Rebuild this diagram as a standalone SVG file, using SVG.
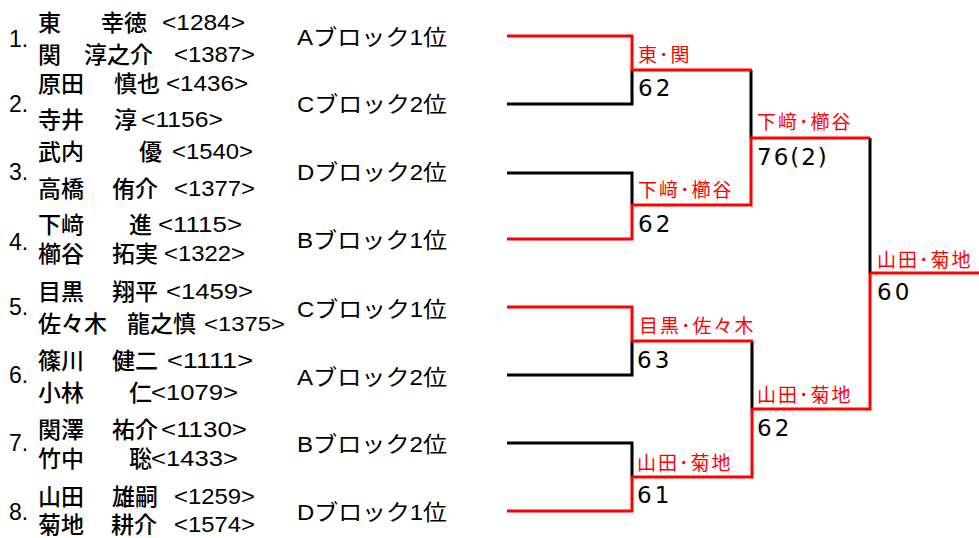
<svg xmlns="http://www.w3.org/2000/svg" width="979" height="538" viewBox="0 0 979 538">
<style>
.bg{fill:#fff}
.num{font-family:"Liberation Sans",Arial,sans-serif;font-size:23px;fill:#000}
.nm{font-family:"Noto Sans CJK JP","Liberation Sans",sans-serif;font-size:23px;font-weight:500;fill:#000}
.rt{font-family:"Liberation Sans",Arial,sans-serif;font-size:22px;fill:#000}
.blk{font-family:"Liberation Sans","Noto Sans CJK JP",sans-serif;font-size:22px;fill:#000}
.win{font-family:"Noto Sans CJK JP",sans-serif;font-size:19px;fill:#ff0000;letter-spacing:2px}
.sc{font-family:"DejaVu Sans","Liberation Sans",sans-serif;font-size:23px;fill:#000}
.lb{fill:none;stroke:#000;stroke-width:3;stroke-linejoin:miter}
.lr{fill:none;stroke:#ff0000;stroke-width:3;stroke-linejoin:miter}
</style>
<rect class="bg" x="0" y="0" width="979" height="538"/>

<g id="entry1">
<text class="num" x="9" y="47">1.</text>
<text class="nm" x="38" y="31">東</text><text class="nm" x="101" y="31">幸徳</text><text class="rt" x="162" y="30" textLength="83" lengthAdjust="spacingAndGlyphs">&lt;1284&gt;</text>
<text class="nm" x="38" y="63">関</text><text class="nm" x="84" y="63">淳之介</text><text class="rt" x="174" y="62" textLength="81" lengthAdjust="spacingAndGlyphs">&lt;1387&gt;</text>
<text class="blk" x="297" y="45" textLength="150" lengthAdjust="spacingAndGlyphs">Aブロック1位</text>
</g>
<g id="entry2">
<text class="num" x="9" y="112">2.</text>
<text class="nm" x="38" y="92">原田</text><text class="nm" x="114" y="92">慎也</text><text class="rt" x="166" y="91" textLength="82" lengthAdjust="spacingAndGlyphs">&lt;1436&gt;</text>
<text class="nm" x="38" y="128">寺井</text><text class="nm" x="114" y="128">淳</text><text class="rt" x="141" y="127" textLength="82" lengthAdjust="spacingAndGlyphs">&lt;1156&gt;</text>
<text class="blk" x="297" y="112" textLength="150" lengthAdjust="spacingAndGlyphs">Cブロック2位</text>
</g>
<g id="entry3">
<text class="num" x="9" y="180">3.</text>
<text class="nm" x="38" y="160">武内</text><text class="nm" x="139" y="160">優</text><text class="rt" x="172" y="159" textLength="81" lengthAdjust="spacingAndGlyphs">&lt;1540&gt;</text>
<text class="nm" x="38" y="197">高橋</text><text class="nm" x="112" y="197">侑介</text><text class="rt" x="174" y="196" textLength="81" lengthAdjust="spacingAndGlyphs">&lt;1377&gt;</text>
<text class="blk" x="297" y="180" textLength="150" lengthAdjust="spacingAndGlyphs">Dブロック2位</text>
</g>
<g id="entry4">
<text class="num" x="9" y="250">4.</text>
<text class="nm" x="38" y="233">下﨑</text><text class="nm" x="129" y="233">進</text><text class="rt" x="158" y="232" textLength="84" lengthAdjust="spacingAndGlyphs">&lt;1115&gt;</text>
<text class="nm" x="38" y="262">櫛谷</text><text class="nm" x="112" y="262">拓実</text><text class="rt" x="164" y="261" textLength="81" lengthAdjust="spacingAndGlyphs">&lt;1322&gt;</text>
<text class="blk" x="297" y="248" textLength="150" lengthAdjust="spacingAndGlyphs">Bブロック1位</text>
</g>
<g id="entry5">
<text class="num" x="9" y="315">5.</text>
<text class="nm" x="38" y="300">目黒</text><text class="nm" x="112" y="300">翔平</text><text class="rt" x="166" y="299" textLength="87" lengthAdjust="spacingAndGlyphs">&lt;1459&gt;</text>
<text class="nm" x="38" y="332">佐々木</text><text class="nm" x="127" y="332">龍之慎</text><text class="rt" x="204" y="331" textLength="81" lengthAdjust="spacingAndGlyphs" style="font-size:20px">&lt;1375&gt;</text>
<text class="blk" x="297" y="317" textLength="150" lengthAdjust="spacingAndGlyphs">Cブロック1位</text>
</g>
<g id="entry6">
<text class="num" x="9" y="383">6.</text>
<text class="nm" x="38" y="369">篠川</text><text class="nm" x="112" y="369">健二</text><text class="rt" x="167" y="368" textLength="86" lengthAdjust="spacingAndGlyphs">&lt;1111&gt;</text>
<text class="nm" x="38" y="401">小林</text><text class="nm" x="129" y="401">仁</text><text class="rt" x="151" y="400" textLength="87" lengthAdjust="spacingAndGlyphs">&lt;1079&gt;</text>
<text class="blk" x="297" y="385" textLength="150" lengthAdjust="spacingAndGlyphs">Aブロック2位</text>
</g>
<g id="entry7">
<text class="num" x="9" y="451">7.</text>
<text class="nm" x="38" y="438">関澤</text><text class="nm" x="112" y="438">祐介</text><text class="rt" x="161" y="437" textLength="86" lengthAdjust="spacingAndGlyphs">&lt;1130&gt;</text>
<text class="nm" x="38" y="467">竹中</text><text class="nm" x="129" y="467">聡</text><text class="rt" x="151" y="466" textLength="87" lengthAdjust="spacingAndGlyphs">&lt;1433&gt;</text>
<text class="blk" x="297" y="452" textLength="150" lengthAdjust="spacingAndGlyphs">Bブロック2位</text>
</g>
<g id="entry8">
<text class="num" x="9" y="520">8.</text>
<text class="nm" x="38" y="505">山田</text><text class="nm" x="112" y="505">雄嗣</text><text class="rt" x="174" y="504" textLength="81" lengthAdjust="spacingAndGlyphs">&lt;1259&gt;</text>
<text class="nm" x="38" y="533">菊地</text><text class="nm" x="111" y="533">耕介</text><text class="rt" x="174" y="532" textLength="81" lengthAdjust="spacingAndGlyphs">&lt;1574&gt;</text>
<text class="blk" x="297" y="520" textLength="150" lengthAdjust="spacingAndGlyphs">Dブロック1位</text>
</g>

<g id="connectors">
<path class="lb" d="M507,104 H632 V70"/>
<path class="lb" d="M507,173 H632 V205"/>
<path class="lb" d="M751,70 V138"/>
<path class="lb" d="M507,375 H632 V341"/>
<path class="lb" d="M507,443 H632 V477"/>
<path class="lb" d="M752,341 V409"/>
<path class="lb" d="M870,138 V273"/>
<path class="lr" d="M507,36 H632 V70 H752"/>
<path class="lr" d="M507,239 H632 V205 H751 V138 H870"/>
<path class="lr" d="M870,273 H979"/>
<path class="lr" d="M507,307 H632 V341 H753"/>
<path class="lr" d="M507,511 H632 V477 H752 V409 H870 V273"/>
</g>

<g id="results">
<text class="win" x="638" y="62">東･関</text>
<text class="sc" x="638" y="96" style="letter-spacing:3px">62</text>
<text class="win" x="638" y="197">下﨑･櫛谷</text>
<text class="sc" x="638" y="232" style="letter-spacing:3px">62</text>
<text class="win" x="757" y="129">下﨑･櫛谷</text>
<text class="sc" x="757" y="165" style="letter-spacing:2px">76(2)</text>
<text class="win" x="877" y="267">山田･菊地</text>
<text class="sc" x="877" y="300" style="letter-spacing:3px">60</text>
<text class="win" x="639" y="333">目黒･佐々木</text>
<text class="sc" x="637" y="368" style="letter-spacing:3px">63</text>
<text class="win" x="757" y="402">山田･菊地</text>
<text class="sc" x="757" y="436" style="letter-spacing:3px">62</text>
<text class="win" x="637" y="470">山田･菊地</text>
<text class="sc" x="637" y="503" style="letter-spacing:3px">61</text>
</g>
</svg>
